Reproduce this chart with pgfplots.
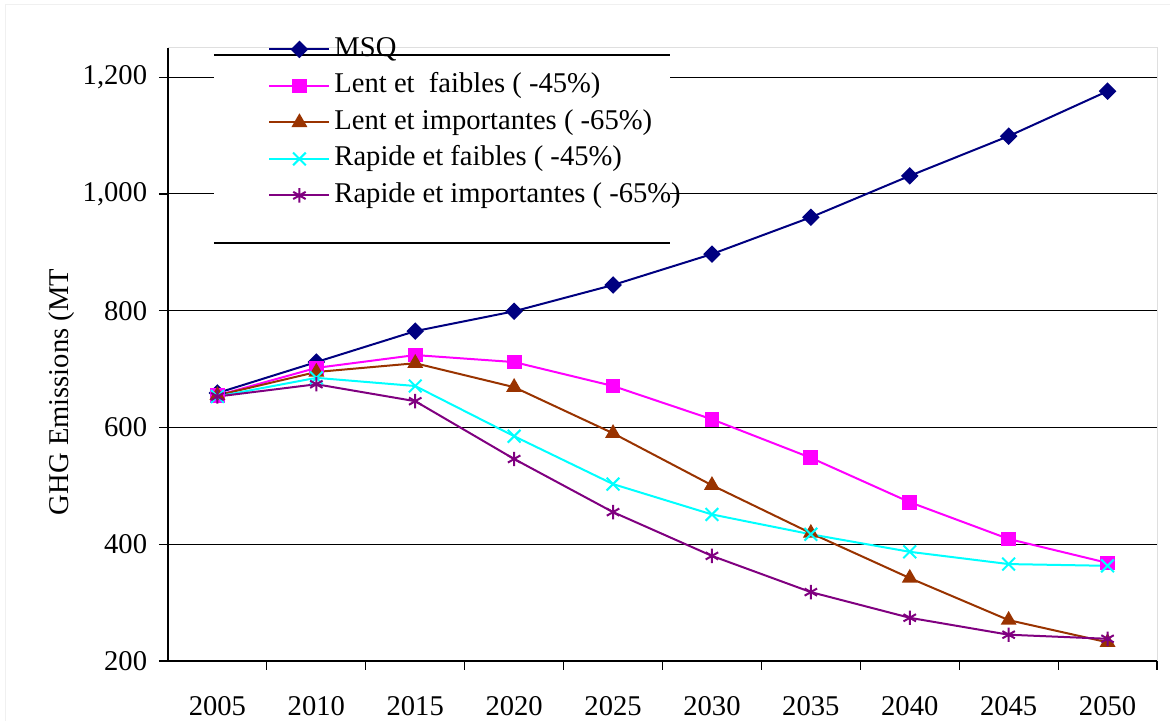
\documentclass[border=0pt]{standalone}
\usepackage{pgfplots}
\pgfplotsset{compat=1.18}
\usepackage{fontspec}
\setmainfont{Liberation Serif}

\definecolor{cMSQ}{HTML}{000080}
\definecolor{cLF}{HTML}{FF00FF}
\definecolor{cLI}{HTML}{993300}
\definecolor{cRF}{HTML}{00FFFF}
\definecolor{cRI}{HTML}{800080}

\begin{document}
\begin{tikzpicture}[x=1pt,y=1pt]
\fontsize{14.3}{17}\selectfont
% overall page: 1 px = 0.5 pt, axis origin at (168,661) px
\useasboundingbox (-84pt,-32.5pt) rectangle (503.5pt,330.5pt);
\draw[gray!12, line width=0.5pt] (-81pt,-30pt) -- (-81pt,328pt) -- (501pt,328pt);
\begin{axis}[
  at={(0pt,0pt)}, anchor=origin,
  scale only axis,
  width=494.5pt, height=306.5pt,
  xmin=2002.5, xmax=2052.5,
  ymin=200, ymax=1250,
  axis x line*=bottom, axis y line*=left,
  axis line style={black, line width=0.6pt},
  xtick={2005,2010,...,2050},
  major x tick style={draw=none},
  minor xtick={2007.5,2012.5,...,2052.5},
  minor x tick style={black, line width=0.6pt},
  minor tick length=4.5pt,
  ytick={200,400,...,1200},
  major tick length=4.5pt,
  tick align=outside,
  tick style={black, line width=0.6pt},
  ymajorgrids,
  grid style={black, line width=0.5pt},
  xticklabel style={font=\fontsize{14.3}{17}\selectfont, yshift=-8.5pt},
  yticklabel style={font=\fontsize{14.3}{17}\selectfont, xshift=-1pt},
  /pgf/number format/assume math mode=true,
  /pgf/number format/1000 sep={,},
  x tick label style={/pgf/number format/1000 sep={}},
  ylabel={GHG Emissions (MT},
  ylabel style={font=\fontsize{14.3}{17}\selectfont, at={(axis description cs:-0.108,0.439)}, anchor=center},
  every axis plot/.append style={line width=1pt},
  legend style={draw=none, fill=none, at={(axis description cs:0.0951,1.026)}, anchor=north west,
    font=\fontsize{14.3}{17}\selectfont,
    nodes={inner sep=0pt, text height=10pt, text depth=3pt},
    row sep=5.25pt, column sep=2pt},
  legend cell align=left,
  legend image code/.code={\draw[mark repeat=2,mark phase=2,#1] plot coordinates {(0pt,0pt) (15pt,0pt) (30pt,0pt)};},
  clip=false,
]
% legend panel behind the entries
\fill[white] (rel axis cs:0.0465,0.682) rectangle (rel axis cs:0.5076,0.9886);
\draw[black, line width=0.6pt] (rel axis cs:0.0465,0.9886) -- (rel axis cs:0.5076,0.9886);
\draw[black, line width=0.6pt] (rel axis cs:0.0465,0.682) -- (rel axis cs:0.5076,0.682);
% faint plot-area frame on top and right
\draw[gray!25, line width=0.5pt] (rel axis cs:0,1) -- (rel axis cs:1,1) -- (rel axis cs:1,0);

\addplot[color=cMSQ, mark=square*, mark size=2.6pt, mark options={rotate=45, solid, fill=cMSQ}] coordinates {
(2005,659) (2010,712) (2015,765) (2020,799) (2025,844) (2030,897) (2035,960) (2040,1031) (2045,1099) (2050,1176)};
\addlegendentry{MSQ}
\addplot[color=cLF, mark=square*, mark size=3.2pt, mark options={fill=cLF}] coordinates {
(2005,655) (2010,702) (2015,724) (2020,712) (2025,671) (2030,614) (2035,548) (2040,472) (2045,409) (2050,368)};
\addlegendentry{Lent et\ \ faibles ( -45\%)}
\addplot[color=cLI, mark=triangle*, mark size=3.6pt, mark options={fill=cLI}] coordinates {
(2005,655) (2010,695) (2015,710) (2020,669) (2025,590) (2030,501) (2035,419) (2040,342) (2045,270) (2050,232)};
\addlegendentry{Lent et importantes ( -65\%)}
\addplot[color=cRF, mark=x, mark size=4.5pt] coordinates {
(2005,653) (2010,685) (2015,671) (2020,585) (2025,503) (2030,451) (2035,417) (2040,387) (2045,366) (2050,363)};
\addlegendentry{Rapide et faibles ( -45\%)}
\addplot[color=cRI, mark=asterisk, mark size=3.6pt] coordinates {
(2005,653) (2010,674) (2015,645) (2020,546) (2025,455) (2030,380) (2035,318) (2040,274) (2045,245) (2050,238)};
\addlegendentry{Rapide et importantes ( -65\%)}
\end{axis}
\end{tikzpicture}
\end{document}
